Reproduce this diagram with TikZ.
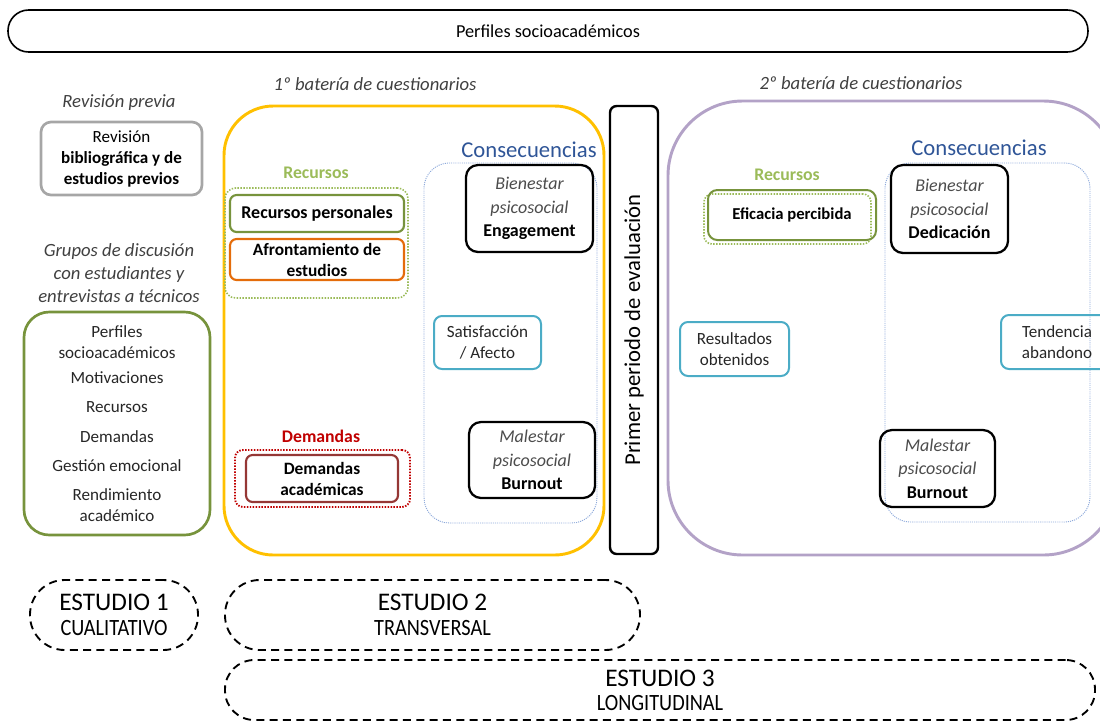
\documentclass[tikz,border=0pt]{standalone}
\usepackage{fontspec}
\setmainfont{Carlito}
\newfontfamily\condfont[FakeStretch=0.87]{Carlito}

\definecolor{cyellow}{HTML}{FFC000}
\definecolor{cpurple}{HTML}{B3A2C7}
\definecolor{colive}{HTML}{77933C}
\definecolor{clgreen}{HTML}{9BBB59}
\definecolor{corange}{HTML}{E46C0A}
\definecolor{cdkred}{HTML}{953735}
\definecolor{cred}{HTML}{C00000}
\definecolor{cnavy}{HTML}{2F5597}
\definecolor{cbluedot}{HTML}{8EAADB}
\definecolor{cteal}{HTML}{4BACC6}
\definecolor{cgray}{HTML}{A6A6A6}

\newcommand{\itl}{\itshape\color{black!70}}
\newcommand{\bfl}{\upshape\bfseries\color{black}}

\tikzset{
  % rectangle spanned by two corners given in pixel-like units
  span/.style n args={4}{minimum width={(#3-#1)*0.75pt}, minimum height={(#4-#2)*0.75pt},
                         at={({(#1+#3)/2},{(#2+#4)/2})}},
  frame/.style={draw, inner sep=0pt, align=center, font=\fontsize{12.8}{16}\selectfont},
  blk/.style={frame, draw=black, line width=1.7pt, rounded corners=9pt, font=\fontsize{13.5}{17.6}\selectfont},
  tealbox/.style={frame, draw=cteal, line width=1.5pt, rounded corners=6pt, text=black!85},
  dotbox/.style={draw, inner sep=0pt, line width=1.2pt, dash pattern=on 1.1pt off 1.1pt},
  studybox/.style={draw, inner sep=0pt, align=center, line width=1.4pt, dash pattern=on 6pt off 4pt},
  lbl/.style={inner sep=0pt, align=center, font=\fontsize{14}{17.25}\selectfont\itshape, text=black!75},
  grplbl/.style={inner sep=0pt, font=\fontsize{13.3}{15}\selectfont\bfseries},
  conslbl/.style={inner sep=0pt, text=cnavy, font=\fontsize{17}{18}\selectfont},
}

\begin{document}
\begin{tikzpicture}[x=0.75pt,y=-0.75pt]
\useasboundingbox (0,0) rectangle (1100,726);
\clip (0,0) rectangle (1100,726);

% header bar
\node[frame, line width=1.2pt, rounded corners=15.5pt, span={8}{10}{1088}{52},
      font=\fontsize{13.7}{15}\selectfont] (top) {Perfiles socioacadémicos};

% ---------- qualitative part ----------
\node[lbl] (revlbl) at (119,103) {Revisión previa};
\node[frame, draw=cgray, line width=2pt, rounded corners=7.5pt, span={41}{122}{202}{195},
      font=\fontsize{12.8}{15.75}\selectfont] (rev)
      {Revisión\\ \bfseries bibliográfica y de\\ \bfseries estudios previos};

\node[lbl] (grplbl) at (119,273) {Grupos de discusión\\con estudiantes y\\entrevistas a técnicos};
\node[frame, draw=colive, line width=2pt, rounded corners=19pt, span={24}{312}{210}{535},
      font=\fontsize{12.8}{15.75}\selectfont, text=black!85] (grp)
      {Perfiles\\socioacadémicos\\[3pt]Motivaciones\\[6.5pt]Recursos\\[6.5pt]Demandas\\[6pt]Gestión emocional\\[6pt]Rendimiento\\académico};

% ---------- first battery ----------
\node[lbl] (bat1) at (375,84) {1º batería de cuestionarios};
\node[draw=cyellow, line width=2.2pt, rounded corners=37pt, inner sep=0pt, span={224}{106}{604}{555}] (yel) {};

\node[grplbl, text=clgreen] (rec1) at (316,173) {Recursos};
\node[dotbox, draw=clgreen, rounded corners=8pt, span={225}{188}{408}{298}] (recdot1) {};
\node[frame, draw=colive, line width=1.6pt, rounded corners=5pt, span={230}{195}{404}{232},
      font=\fontsize{13.5}{15}\selectfont\bfseries] (rp) {Recursos personales};
\node[frame, draw=corange, line width=1.6pt, rounded corners=5pt, span={230}{239}{404}{280},
      font=\fontsize{13}{15.75}\selectfont\bfseries] (afr) {Afrontamiento de\\estudios};

\node[grplbl, text=cred] (dem1) at (321,436) {Demandas};
\node[dotbox, draw=cred, line width=1.4pt, rounded corners=6pt, span={235}{450}{410}{507}] (demdot) {};
\node[frame, draw=cdkred, line width=1.6pt, rounded corners=5pt, span={246}{455}{398}{502},
      font=\fontsize{13}{15.75}\selectfont\bfseries] (dem) {Demandas\\académicas};

\node[conslbl] (cons1) at (529,150) {Consecuencias};
\node[dotbox, draw=cbluedot, line width=0.7pt, dash pattern=on 0.8pt off 0.8pt, rounded corners=19pt,
      span={424}{163}{597}{523}] (bdot1) {};
\node[blk, span={466}{165}{593}{252}] (eng) {\itl Bienestar\\ \itl psicosocial\\ \bfl Engagement};
\node[tealbox, span={434}{316}{541}{369}] (sat) {Satisfacción\\/ Afecto};
\node[blk, span={469}{422}{595}{498}] (mal1) {\itl Malestar\\ \itl psicosocial\\ \bfl Burnout};

% ---------- evaluation period ----------
\node[draw, line width=1.8pt, rounded corners=5pt, inner sep=0pt, rotate=90,
      minimum width=448*0.75pt, minimum height=48*0.75pt,
      font=\fontsize{17}{18}\selectfont] (eval) at (634,330) {Primer periodo de evaluación};

% ---------- second battery ----------
\node[lbl] (bat2) at (861,83) {2º batería de cuestionarios};
\node[draw=cpurple, line width=2.2pt, rounded corners=56pt, inner sep=0pt, span={668}{101}{1118}{555}] (pur) {};

\node[grplbl, text=clgreen] (rec2) at (787,175) {Recursos};
\node[dotbox, draw=clgreen, rounded corners=6pt, span={704}{194}{871}{244}] (efidot) {};
\node[frame, draw=colive, line width=1.5pt, rounded corners=7pt, span={708}{190}{876}{240},
      font=\fontsize{12.5}{15}\selectfont\bfseries] (efi) {Eficacia percibida};

\node[conslbl] (cons2) at (979,148) {Consecuencias};
\node[dotbox, draw=cbluedot, line width=0.7pt, dash pattern=on 0.8pt off 0.8pt, rounded corners=19pt,
      span={885}{163}{1090}{522}] (bdot2) {};
\node[blk, span={891}{165}{1008}{253}] (ded) {\itl Bienestar\\ \itl psicosocial\\ \bfl Dedicación};
\node[tealbox, span={680}{322}{789}{376}] (res) {Resultados\\obtenidos};
\node[tealbox, span={1001}{315}{1113}{369}] (ten) {Tendencia\\abandono};
\node[blk, span={880}{430}{995}{507}] (mal2) {\itl Malestar\\ \itl psicosocial\\ \bfl Burnout};

% ---------- studies ----------
\node[studybox, rounded corners=26pt, span={30}{580}{198}{650}] (e1)
      {\fontsize{19}{19}\selectfont ESTUDIO 1\\[7pt]\condfont\fontsize{17.5}{17.5}\selectfont CUALITATIVO};
\node[studybox, rounded corners=26pt, span={225}{580}{640}{650}] (e2)
      {\fontsize{19}{19}\selectfont ESTUDIO 2\\[7pt]\condfont\fontsize{17.5}{17.5}\selectfont TRANSVERSAL};
\node[studybox, rounded corners=22pt, span={225}{660}{1095}{720}] (e3)
      {\fontsize{19}{19}\selectfont ESTUDIO 3\\[6pt]\condfont\fontsize{17.5}{17.5}\selectfont LONGITUDINAL};
\end{tikzpicture}
\end{document}
